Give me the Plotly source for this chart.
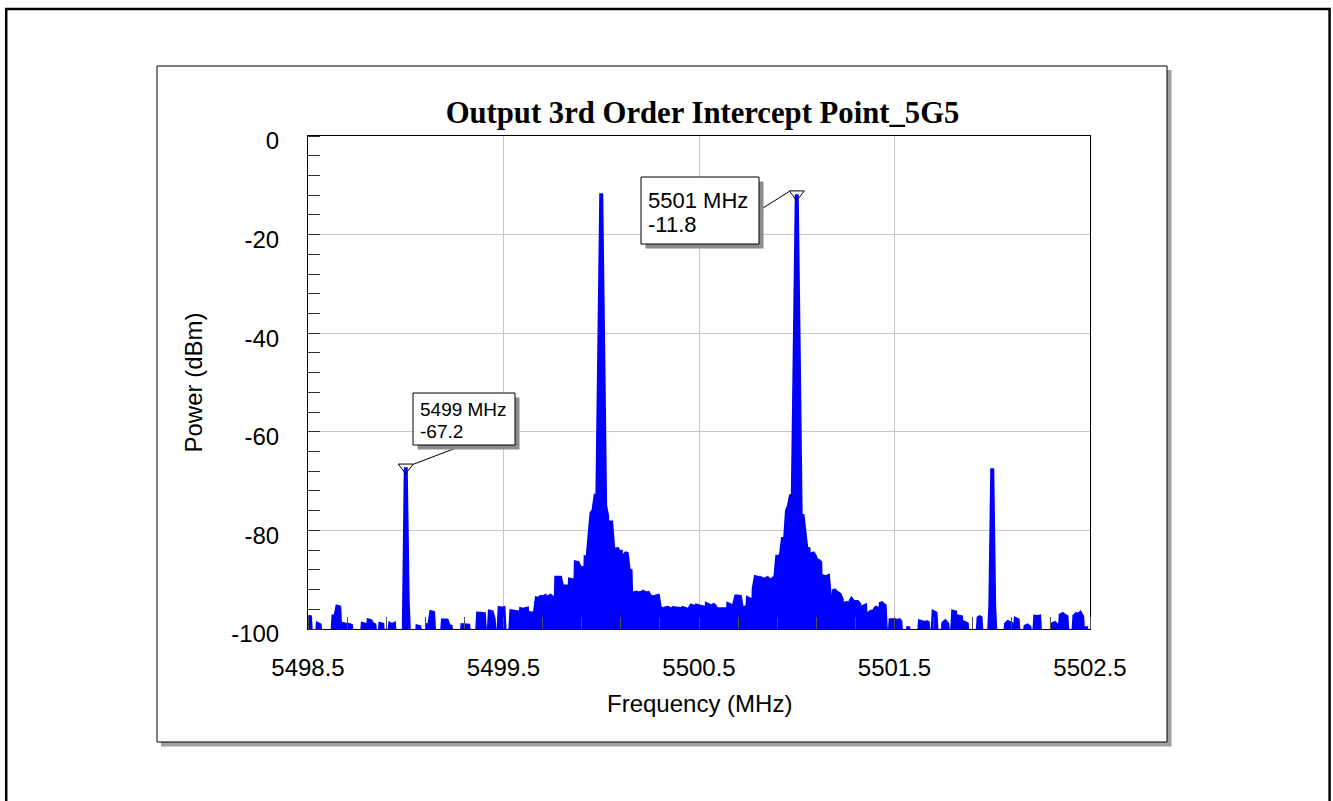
import numpy as np
import plotly.graph_objects as go

# ---------------- data ----------------
F_START, F_STOP, F_STEP = 5498.5, 5502.5, 0.01   # sweep grid (MHz)

# power (dBm) per 0.01 MHz bin, values below -100 are off-scale
power_5498_50_to_5499_99 = [
    -97.5, -97.6, -104, -104, -104, -99, -99.2, -104, -104, -104,
    -104, -104, -104, -97.5, -97.6, -95.5, -95.6, -104, -99, -99.1,
    -104, -99.2, -99.3, -104, -104, -104, -104, -104, -99, -99.1,
    -104, -98.3, -98.4, -99, -99.2, -104, -104, -99, -99.1, -104,
    -104, -104, -99, -99.2, -99, -104, -104, -104, -104, -100.5,
    -67.2, -94.4, -104, -104, -104, -104, -99.5, -99.6, -104, -104,
    -104, -99.3, -99.4, -96.6, -96.7, -104, -104, -104, -104, -98.3,
    -98.4, -98.3, -99.4, -99.5, -104, -104, -104, -104, -104, -99.2,
    -99.3, -99.2, -99.3, -104, -104, -104, -104, -96.9, -97, -96.9,
    -97, -104, -104, -96.5, -96.6, -98, -104, -104, -95.8, -95.9,
    -95.8, -104, -104, -104, -96.4, -96.5, -96.4, -96.6, -104, -96,
    -96.1, -96, -95.9, -104, -96.8, -96.9, -96.8, -93.8, -93.9, -93.5,
    -93.6, -93.4, -104, -93.5, -93.3, -93.6, -104, -89.6, -89.7, -89.6,
    -91.4, -91.5, -91.4, -104, -90, -90.1, -104, -86.5, -86.6, -87.5,
    -87.6, -104, -85.5, -85.6, -81, -76.5, -76, -73.2, -73.5, -43,
]
power_5500_00 = [-11.6]
power_5500_01_to_5500_99 = [
    -43, -75, -77, -98, -78, -83, -104, -83.5, -84.5,
    -84.4, -104, -85, -84.5, -88, -88.2, -104, -92.7, -92.6, -92.8,
    -92.7, -104, -92.6, -92.8, -92.7, -93.4, -93.5, -104, -93.4, -93.3,
    -95.8, -95.9, -104, -95.8, -95.7, -95.9, -104, -95.8, -95.9, -95.8,
    -95.9, -104, -95.8, -95.9, -104, -96, -95.3, -95.4, -104, -95.3,
    -95.4, -95.5, -95.6, -104, -95, -95.2, -104, -95, -95.3, -96,
    -96, -96.1, -96.2, -96, -104, -95, -95.2, -104, -95, -93.4,
    -93.4, -93.5, -96, -95.8, -104, -93.8, -94, -104, -91.8, -89.5,
    -89.6, -104, -89.8, -90, -89.9, -89.7, -90, -104, -89.5, -89.8,
    -85.4, -85.5, -84.7, -81.4, -82, -76, -75, -73, -72.8, -43,
]
power_5501_00 = [-11.8]
power_5501_01_to_5501_99 = [
    -43, -76.7, -77, -81, -84, -83.5, -104, -84.5, -85,
    -86, -86.1, -86.5, -104, -89.4, -89.5, -89.3, -93.8, -104, -92,
    -92.5, -92.8, -93, -94, -104, -94.5, -95, -94.8, -94, -94.5,
    -94.6, -94.5, -95, -104, -95.5, -95.3, -104, -96.8, -96.5, -96.6,
    -96, -95.5, -104, -94.6, -95, -95.3, -104, -104, -98.2, -98.3,
    -98.2, -104, -98, -98.5, -104, -104, -104, -99.5, -104, -104,
    -104, -104, -104, -98.5, -98.6, -98.5, -98.8, -98.5, -104, -104,
    -96.6, -96.8, -104, -104, -104, -98.8, -98.5, -99, -104, -104,
    -96.5, -96.6, -104, -97.5, -97.6, -104, -98.8, -99, -104, -104,
    -104, -104, -104, -97.8, -97.5, -104, -104, -104, -104, -95.5,
]
power_5502_00 = [-67.4]
power_5502_01_to_5502_50 = [
    -95.5, -104, -104, -104, -104, -104, -99, -98.6, -98.8,
    -99, -104, -98, -98.2, -104, -104, -104, -99.5, -99.3, -99.6,
    -104, -104, -97.5, -97.6, -97.5, -104, -104, -104, -104, -104,
    -104, -99, -98.8, -99.2, -104, -97.2, -97, -97.3, -97.5, -104,
    -104, -104, -97.4, -97, -97.2, -96.8, -97.5, -104, -99.5, -104, -104,
]

power = (power_5498_50_to_5499_99 + power_5500_00 + power_5500_01_to_5500_99
         + power_5501_00 + power_5501_01_to_5501_99 + power_5502_00
         + power_5502_01_to_5502_50)
frequency = np.round(F_START + F_STEP * np.arange(len(power)), 2)

marker_freq = [5499.0, 5501.0]
marker_power = [-67.2, -11.8]
marker_text_freq = ["5499 MHz", "5501 MHz"]
marker_text_power = ["-67.2", "-11.8"]

x_tick_vals = [5498.5, 5499.5, 5500.5, 5501.5, 5502.5]
x_tick_text = ["5498.5", "5499.5", "5500.5", "5501.5", "5502.5"]
y_tick_vals = [0, -20, -40, -60, -80, -100]
y_tick_text = ["0", "-20", "-40", "-60", "-80", "-100"]

title_text = "Output 3rd Order Intercept Point_5G5"
x_title = "Frequency (MHz)"
y_title = "Power (dBm)"

# ---------------- layout geometry ----------------
W, H = 1333, 801
L, R, T, B = 308, 243, 136, 172
PW, PH = W - L - R, H - T - B
X0, X1 = F_START, F_STOP
Y0, Y1 = -100, 0


def PX(px):
    return (px - L) / PW


def PY(py):
    return (H - B - py) / PH


SANS = "Liberation Sans, Arial, sans-serif"
SERIF = "Liberation Serif, Times New Roman, serif"

fig = go.Figure()
fig.add_trace(go.Scatter(x=[X0, X1], y=[-130, -130], mode="lines",
                         line=dict(width=0, color="blue"),
                         hoverinfo="skip", showlegend=False))
fig.add_trace(go.Scatter(x=frequency, y=power, mode="lines",
                         line=dict(color="#0000FF", width=4),
                         fill="tonexty", fillcolor="#0000FF",
                         showlegend=False))
fig.add_trace(go.Scatter(x=marker_freq, y=marker_power, mode="markers",
                         marker=dict(symbol="triangle-down-open", size=13,
                                     color="black", line=dict(width=1, color="black")),
                         showlegend=False, cliponaxis=False))

shapes = []
# outer frame
shapes.append(dict(type="rect", xref="paper", yref="paper", layer="below",
                   x0=PX(6.2), x1=PX(1329.6), y0=PY(830), y1=PY(9),
                   line=dict(color="black", width=2.5), fillcolor="rgba(0,0,0,0)"))
# panel shadow and panel
shapes.append(dict(type="rect", xref="paper", yref="paper", layer="below",
                   x0=PX(161), x1=PX(1171.5), y0=PY(746.5), y1=PY(70),
                   line=dict(width=0), fillcolor="#a0a0a0"))
shapes.append(dict(type="rect", xref="paper", yref="paper", layer="below",
                   x0=PX(157), x1=PX(1167), y0=PY(742), y1=PY(66),
                   line=dict(color="black", width=1), fillcolor="white"))

annotations = []
boxes = [
    # box (left, top, right, bottom), connector start, end offset, text x, line y's, font size
    dict(box=(413, 393, 515, 445), start=(464, 445), end_off=(7.5, -3), tx=418,
         ty=(409.5, 431), fs=19),
    dict(box=(641, 177, 759, 244), start=(759, 210.5), end_off=(-7, -3), tx=646,
         ty=(200, 224.7), fs=22),
]
for i, b in enumerate(boxes):
    l, t, r, btm = b["box"]
    mx = L + (marker_freq[i] - X0) / (X1 - X0) * PW
    my = T + (Y1 - marker_power[i]) / (Y1 - Y0) * PH
    ex, ey = mx + b["end_off"][0], my + b["end_off"][1]
    shapes.append(dict(type="line", xref="paper", yref="paper", layer="above",
                       x0=PX(b["start"][0]), y0=PY(b["start"][1]),
                       x1=PX(ex), y1=PY(ey), line=dict(color="black", width=1)))
    shapes.append(dict(type="rect", xref="paper", yref="paper", layer="above",
                       x0=PX(l + 4.5), x1=PX(r + 4.5), y0=PY(btm + 4.5), y1=PY(t + 4.5),
                       line=dict(width=0), fillcolor="#8c8c8c"))
    shapes.append(dict(type="rect", xref="paper", yref="paper", layer="above",
                       x0=PX(l), x1=PX(r), y0=PY(btm), y1=PY(t),
                       line=dict(color="black", width=1), fillcolor="white"))
    for txt, yy in zip([marker_text_freq[i], marker_text_power[i]], b["ty"]):
        annotations.append(dict(xref="paper", yref="paper", x=PX(b["tx"]), y=PY(yy),
                                xanchor="left", yanchor="middle", text=txt,
                                showarrow=False, align="left",
                                font=dict(family=SANS, size=b["fs"], color="black")))

# axis titles
annotations.append(dict(xref="paper", yref="paper", x=PX(699), y=PY(703),
                        xanchor="center", yanchor="middle", text=x_title,
                        showarrow=False, font=dict(family=SANS, size=24, color="black")))
annotations.append(dict(xref="paper", yref="paper", x=PX(193), y=PY(382.5),
                        xanchor="center", yanchor="middle", text=y_title, textangle=-90,
                        showarrow=False, font=dict(family=SANS, size=24, color="black")))

fig.update_layout(
    width=W, height=H,
    margin=dict(l=L, r=R, t=T, b=B, pad=0),
    paper_bgcolor="white", plot_bgcolor="white",
    title=dict(text="<b>" + title_text + "</b>", x=PX(702.5), xref="paper",
               xanchor="center", y=1 - 112 / H, yref="container", yanchor="middle",
               font=dict(family=SERIF, size=30.7, color="black")),
    shapes=shapes, annotations=annotations,
    showlegend=False,
)
fig.update_xaxes(range=[X0, X1], tickvals=x_tick_vals, ticktext=x_tick_text,
                 ticks="", showgrid=True, gridcolor="#c8c8c8", gridwidth=1,
                 showline=True, mirror=True, linecolor="black", linewidth=1,
                 zeroline=False, ticklabelstandoff=17,
                 tickfont=dict(family=SANS, size=24, color="black"),
                 minor=dict(tick0=X0, dtick=0.2, ticks="inside", ticklen=12,
                            tickcolor="#505050", tickwidth=1, showgrid=False))
fig.update_yaxes(range=[Y0, Y1], tickvals=y_tick_vals, ticktext=y_tick_text,
                 ticks="", showgrid=True, gridcolor="#c8c8c8", gridwidth=1,
                 showline=True, mirror=True, linecolor="black", linewidth=1,
                 zeroline=False, ticklabelstandoff=23, ticklabelshift=5,
                 tickfont=dict(family=SANS, size=24, color="black"),
                 minor=dict(tick0=0, dtick=4, ticks="inside", ticklen=12,
                            tickcolor="#303030", tickwidth=1, showgrid=False))

fig.write_html("out.html")
